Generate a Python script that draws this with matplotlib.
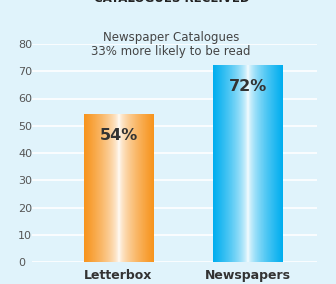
import numpy as np
import matplotlib.pyplot as plt
from matplotlib.colors import LinearSegmentedColormap

categories = ["Letterbox", "Newspapers"]
values = [54, 72]
labels = ["54%", "72%"]
bar_colors = ["#f7941d", "#00aeef"]
yticks = [0, 10, 20, 30, 40, 50, 60, 70, 80]
title = "CATALOGUES RECEIVED"
note = "Newspaper Catalogues\n33% more likely to be read"

bg = "#e0f3fb"
fig = plt.figure(figsize=(3.36, 2.84), dpi=100, facecolor=bg)
ax = fig.add_axes([32/336, 22/284, 285/336, 218/284], facecolor=bg)

width = 0.533
x = np.arange(len(categories))
for i in range(len(categories)):
    cmap = LinearSegmentedColormap.from_list("g", [bar_colors[i], "white", bar_colors[i]])
    s = np.linspace(-1, 1, 200)
    grad = 0.5 + 0.5*np.sign(s)*(np.abs(s)**0.6)
    ax.imshow(grad[np.newaxis, :], cmap=cmap, aspect="auto", vmin=0, vmax=1,
              extent=[x[i]-width/2, x[i]+width/2, 0, values[i]], zorder=2)
    ax.text(x[i], values[i]-7.5, labels[i], ha="center", va="center",
            fontsize=11.5, fontweight="bold", color="#333333", zorder=3)

for t in yticks:
    ax.axhline(t, color="white", lw=1.2, zorder=1)

ax.set_xlim(-0.668, 1.533)
ax.set_ylim(0, 80)
for s in ax.spines.values():
    s.set_visible(False)
ax.set_xticks(x)
ax.set_xticklabels(categories, fontsize=9, fontweight="bold", color="#333333")
ax.tick_params(axis="x", length=0, pad=5)
ax.set_yticks(yticks)
ax.set_yticklabels([str(t) for t in yticks], fontsize=8, color="#555555", ha="left")
ax.tick_params(axis="y", length=0, pad=10)

fig.text(171/336, 1-44/284, note, ha="center", va="center", fontsize=8.5,
         color="#444444", linespacing=1.1)
# title sits mostly above the top edge, as in the source image
fig.text(172/336, 1-1.5/284, title, ha="center", va="baseline", fontsize=8.5,
         fontweight="bold", color="#222222")

plt.savefig("out.png", dpi=100, facecolor=bg)
